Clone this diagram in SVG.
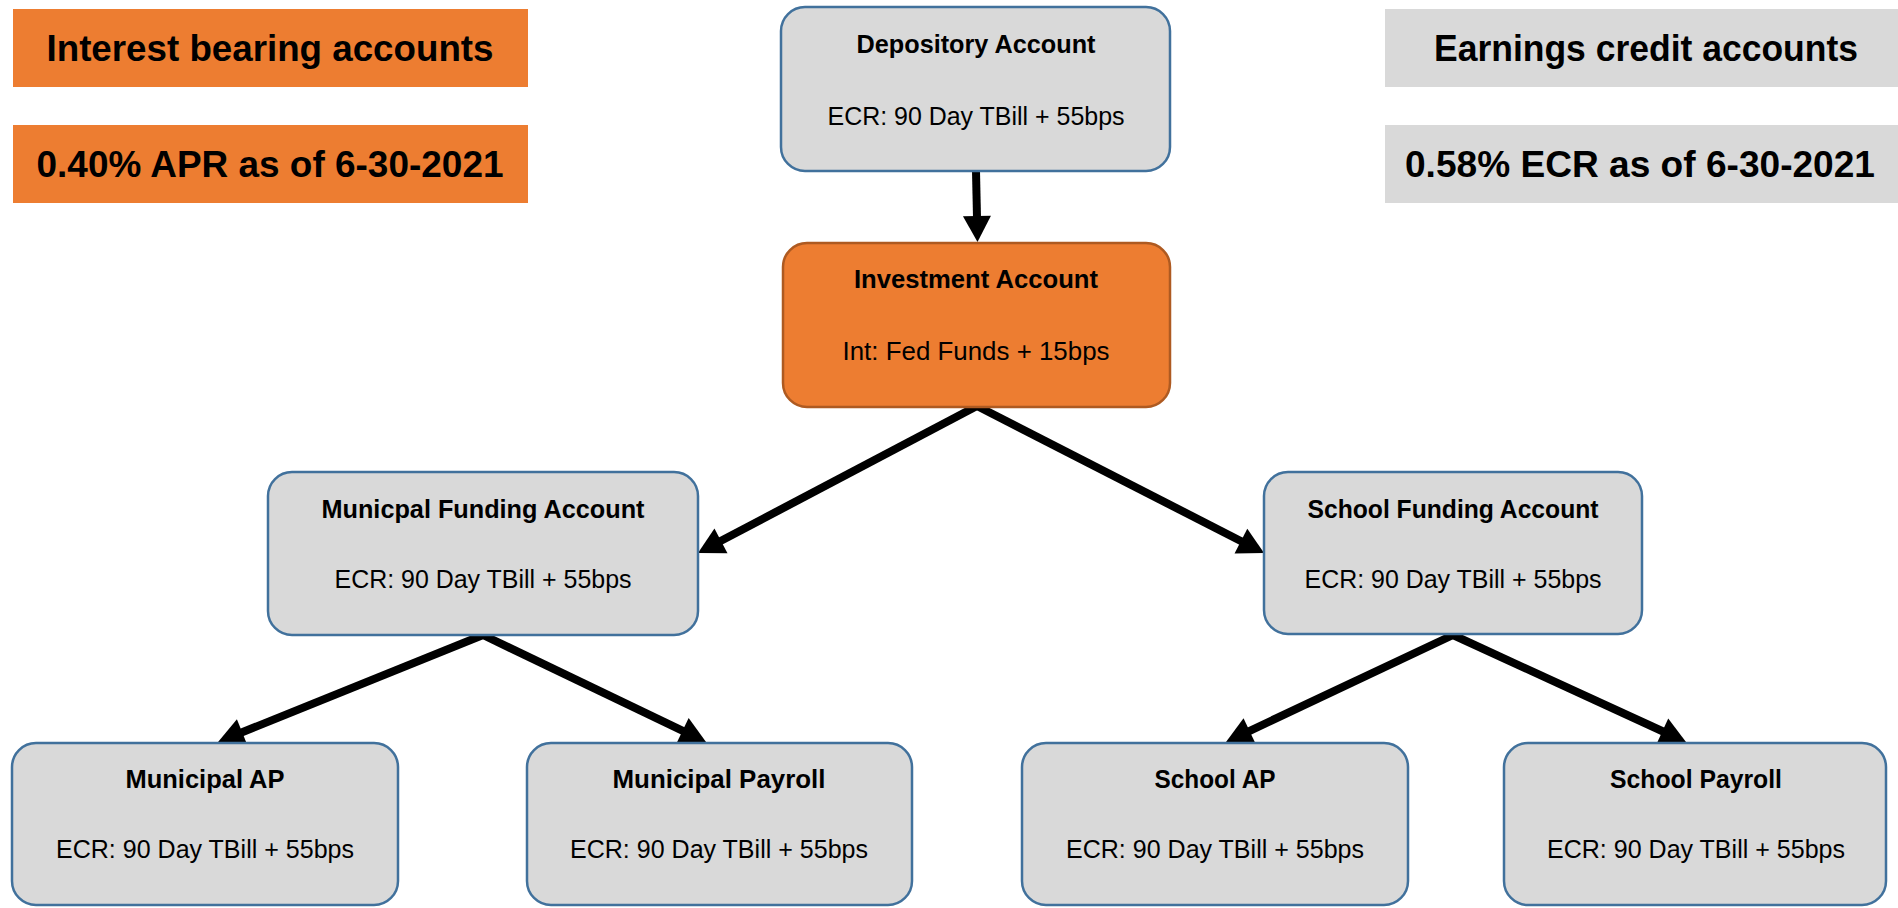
<svg xmlns="http://www.w3.org/2000/svg" width="1898" height="908" viewBox="0 0 1898 908">
<style>
.node{fill:#D9D9D9;stroke:#41719C;stroke-width:2.5}
.inv{fill:#ED7D31;stroke:#AE5A21;stroke-width:2.5}
.t{font-family:"Liberation Sans",Arial,sans-serif;font-size:25px;fill:#000;text-anchor:middle}
.b{font-weight:bold}
.h{font-family:"Liberation Sans",Arial,sans-serif;font-size:36px;font-weight:bold;fill:#000;text-anchor:middle}
.conn line{stroke:#000;stroke-width:8;marker-end:url(#ah)}
</style>
<defs>
<marker id="ah" markerUnits="userSpaceOnUse" markerWidth="28" markerHeight="28" refX="2" refY="14" orient="auto" overflow="visible">
<path d="M0,0 L26,14 L0,28 Z" fill="#000"/>
</marker>
</defs>
<rect width="1898" height="908" fill="#fff"/>
<g id="legend-interest">
<rect x="13" y="9" width="515" height="78" fill="#ED7D31"/>
<text class="h" x="270" y="61" textLength="447" lengthAdjust="spacingAndGlyphs">Interest bearing accounts</text>
<rect x="13" y="125" width="515" height="78" fill="#ED7D31"/>
<text class="h" x="270" y="177" textLength="467" lengthAdjust="spacingAndGlyphs">0.40% APR as of 6-30-2021</text>
</g>
<g id="legend-earnings">
<rect x="1385" y="9" width="513" height="78" fill="#D9D9D9"/>
<text class="h" x="1646" y="61" textLength="424" lengthAdjust="spacingAndGlyphs">Earnings credit accounts</text>
<rect x="1385" y="125" width="513" height="78" fill="#D9D9D9"/>
<text class="h" x="1640" y="177" textLength="470" lengthAdjust="spacingAndGlyphs">0.58% ECR as of 6-30-2021</text>
</g>
<g class="conn" id="connectors">
<line x1="976" y1="171" x2="977" y2="218"/>
<line x1="977" y1="406" x2="719.2" y2="541.8"/>
<line x1="977" y1="406" x2="1242.7" y2="542"/>
<line x1="483" y1="635" x2="240.3" y2="733"/>
<line x1="483" y1="635" x2="684.4" y2="731.6"/>
<line x1="1453" y1="635" x2="1247.7" y2="731.8"/>
<line x1="1453" y1="635" x2="1664.2" y2="732"/>
</g>
<g id="depository">
<rect class="node" x="781" y="7" width="389" height="164" rx="24"/>
<text class="t b" x="976" y="53" textLength="239" lengthAdjust="spacingAndGlyphs">Depository Account</text>
<text class="t" x="976" y="125" textLength="297" lengthAdjust="spacingAndGlyphs">ECR: 90 Day TBill + 55bps</text>
</g>
<g id="investment">
<rect class="inv" x="783" y="243" width="387" height="164" rx="24"/>
<text class="t b" x="976" y="288" textLength="244" lengthAdjust="spacingAndGlyphs">Investment Account</text>
<text class="t" x="976" y="360" textLength="267" lengthAdjust="spacingAndGlyphs">Int: Fed Funds + 15bps</text>
</g>
<g id="municipal-funding">
<rect class="node" x="268" y="472" width="430" height="163" rx="24"/>
<text class="t b" x="483" y="518" textLength="323" lengthAdjust="spacingAndGlyphs">Municpal Funding Account</text>
<text class="t" x="483" y="588" textLength="297" lengthAdjust="spacingAndGlyphs">ECR: 90 Day TBill + 55bps</text>
</g>
<g id="school-funding">
<rect class="node" x="1264" y="472" width="378" height="162" rx="24"/>
<text class="t b" x="1453" y="518" textLength="291" lengthAdjust="spacingAndGlyphs">School Funding Account</text>
<text class="t" x="1453" y="588" textLength="297" lengthAdjust="spacingAndGlyphs">ECR: 90 Day TBill + 55bps</text>
</g>
<g id="municipal-ap">
<rect class="node" x="12" y="743" width="386" height="162" rx="24"/>
<text class="t b" x="205" y="788" textLength="159" lengthAdjust="spacingAndGlyphs">Municipal AP</text>
<text class="t" x="205" y="858" textLength="298" lengthAdjust="spacingAndGlyphs">ECR: 90 Day TBill + 55bps</text>
</g>
<g id="municipal-payroll">
<rect class="node" x="527" y="743" width="385" height="162" rx="24"/>
<text class="t b" x="719" y="788" textLength="213" lengthAdjust="spacingAndGlyphs">Municipal Payroll</text>
<text class="t" x="719" y="858" textLength="298" lengthAdjust="spacingAndGlyphs">ECR: 90 Day TBill + 55bps</text>
</g>
<g id="school-ap">
<rect class="node" x="1022" y="743" width="386" height="162" rx="24"/>
<text class="t b" x="1215" y="788" textLength="121" lengthAdjust="spacingAndGlyphs">School AP</text>
<text class="t" x="1215" y="858" textLength="298" lengthAdjust="spacingAndGlyphs">ECR: 90 Day TBill + 55bps</text>
</g>
<g id="school-payroll">
<rect class="node" x="1504" y="743" width="382" height="162" rx="24"/>
<text class="t b" x="1696" y="788" textLength="172" lengthAdjust="spacingAndGlyphs">School Payroll</text>
<text class="t" x="1696" y="858" textLength="298" lengthAdjust="spacingAndGlyphs">ECR: 90 Day TBill + 55bps</text>
</g>
</svg>
